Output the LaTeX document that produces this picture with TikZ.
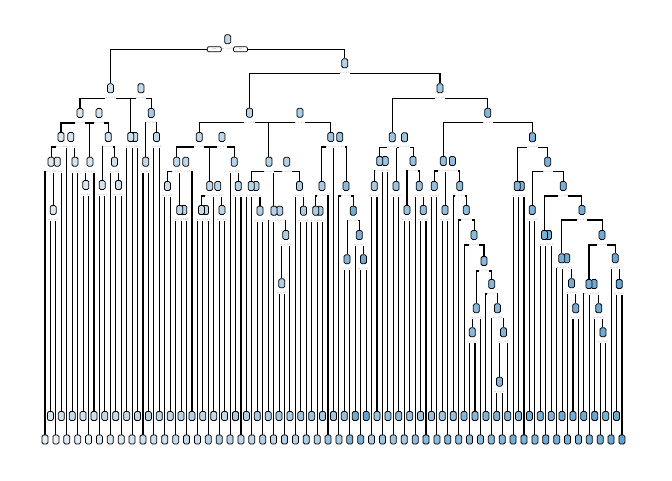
\documentclass[tikz,border=0pt]{standalone}
\usepackage{fontspec}
\usetikzlibrary{calc}
\pgfdeclarelayer{bg}
\pgfdeclarelayer{fg}
\pgfsetlayers{bg,main,fg}
\definecolor{nb}{RGB}{60,140,198}
\definecolor{nl}{RGB}{244,246,248}
\definecolor{lbl}{RGB}{130,100,140}
\tikzset{
  box/.style={draw=black, line width=0.75pt, rounded corners=1.5pt, minimum width=6pt, minimum height=9pt, inner sep=0pt},
  edge/.style={line width=1.1pt, black},
  splitlbl/.style={fill=white, inner sep=0.25pt, text=lbl, font=\fontsize{2.2}{2.4}\selectfont},
  yn/.style={draw=black, fill=white, line width=0.7pt, rounded corners=1.2pt, minimum width=14pt, minimum height=5pt, inner sep=0pt, text=lbl, font=\fontsize{2.4}{2.6}\selectfont}
}
\newcommand\mkbar[5]{%
  \path let \p1=(#2), \p2=(#3) in ({0.5*\x1+0.5*\x2},{-#4pt}) coordinate (#1);
  \path (#1) ++(0,10) coordinate (#1b);
  \node[box, fill=nb!#5!nl] (#1n) at (#1) {};
  \begin{pgfonlayer}{fg}
    \node[splitlbl] (#1s) at (#1b) {x < 0.5};
  \end{pgfonlayer}}
\newcommand\inode[5]{\mkbar{#1}{#2}{#3}{#4}{#5}%
  \begin{pgfonlayer}{bg}\draw[edge] (#2n.north) |- (#1b) -| (#3n.north);\end{pgfonlayer}}
\newcommand\inodet[5]{\mkbar{#1}{#2}{#3}{#4}{#5}%
  \begin{pgfonlayer}{bg}\draw[edge] (#2n.north) |- (#1b) -- (#3 |- #1b);\end{pgfonlayer}}
\def\lcol{{8,15,5,20,12,25,10,18,6,22,14,28,16,24,12,26,18,30,20,34,22,30,20,28,24,32,26,36,22,30,34,28,38,26,32,40,30,36,28,42,34,38,30,44,36,40,32,46,38,48,34,42,50,44,40,52,62,70,66,78,40,48,44,52,46,56,42,50,54,48,58,50,56,46,60,52,58,62,54,60,56,64,58,66,60,62,68,58,64,70,62,66,72,64,68,74,66,70,62,72,68,76,70,66,74,72,78}}
\begin{document}
\begin{tikzpicture}[x=1pt,y=-1pt]
\useasboundingbox (0,0) rectangle (672,480);
% leaves
\foreach \i in {0,...,106}{
  \pgfmathsetmacro\lx{45+5.443*\i}
  \pgfmathsetmacro\ly{mod(\i,2)==0 ? 439.5 : 416}
  \pgfmathtruncatemacro\lp{\lcol[\i]}
  \coordinate (l\i) at (\lx,\ly);
  \node[box, fill=nb!\lp!nl] (l\i n) at (l\i) {};
}
% ---- left subtree A
\inode{F6}{l1}{l2}{210}{12}
\inode{F4}{F6}{l3}{161.7}{14}
\inodet{F3}{l0}{F4}{161.7}{12}
\inode{F5}{l5}{l6}{161.7}{18}
\inode{F2}{l4}{F5}{137}{16}
\inodet{F1}{F3}{F2}{137}{14}
\inode{C4}{l7}{l8}{185}{14}
\inode{C3}{C4}{l9}{161.7}{16}
\inode{G3}{l10}{l11}{185}{20}
\inode{G4}{l13}{l14}{185}{20}
\inode{G2}{l12}{G4}{161.7}{20}
\inode{G1}{G3}{G2}{137}{20}
\inode{C2}{C3}{G1}{113}{18}
\inodet{C1}{F1}{C2}{113}{16}
\inode{E2}{l16}{l17}{137}{24}
\inodet{E1}{l15}{E2}{137}{22}
\inode{D3}{l18}{l19}{161.7}{28}
\inode{D2}{l20}{l21}{137}{28}
\inode{D1}{D3}{D2}{113}{42}
\inode{A2}{E1}{D1}{88.3}{26}
\inodet{A}{C1}{A2}{88.3}{20}
% ---- B1 subtree
\inode{K1}{l22}{l23}{186}{24}
\inode{L1p}{l25}{l26}{210}{30}
\inodet{L1}{l24}{L1p}{210}{28}
\inode{J1p}{L1}{l27}{161.7}{30}
\inodet{J1}{K1}{J1p}{161.7}{28}
\inode{N1p}{l29}{l30}{210}{28}
\inodet{N1}{l28}{N1p}{210}{26}
\inode{P1}{l32}{l33}{210}{32}
\inode{M1p}{l31}{P1}{186}{30}
\inodet{M1}{N1}{M1p}{186}{28}
\inode{Q2}{l35}{l36}{186}{34}
\inode{Q1}{l34}{Q2}{161.7}{32}
\inode{H1p}{M1}{Q1}{137}{30}
\inodet{H1}{J1}{H1p}{137}{28}
\inode{V1}{l39}{l40}{210.7}{36}
\inode{U1p}{l38}{V1}{186}{34}
\inodet{U1}{l37}{U1p}{186}{32}
\inode{X2}{l43}{l44}{283.3}{38}
\inode{X1}{X2}{l45}{235}{38}
\inode{W1p}{l42}{X1}{210.7}{36}
\inodet{W1}{l41}{W1p}{210.7}{34}
\inode{Y2}{l47}{l48}{210.7}{40}
\inode{Y1}{l46}{Y2}{186}{40}
\inode{S1p}{W1}{Y1}{161.7}{36}
\inodet{S1}{U1}{S1p}{161.7}{34}
\inode{Z2p}{l50}{l51}{210.7}{42}
\inodet{Z2}{l49}{Z2p}{210.7}{40}
\inode{Z1}{Z2}{l52}{186}{42}
\inode{BB1}{l55}{l56}{259.3}{62}
\inode{CC2}{l58}{l59}{259.3}{72}
\inode{CC1}{l57}{CC2}{235}{66}
\inode{AA2}{BB1}{CC1}{210.7}{70}
\inode{AA1}{l54}{AA2}{186}{58}
\inode{TX}{l53}{AA1}{137}{50}
\inodet{T1}{Z1}{TX}{137}{46}
\inode{B1p}{S1}{T1}{112.7}{38}
\inodet{B1}{H1}{B1p}{112.7}{32}
% ---- B2 subtree
\inode{GG}{l60}{l61}{186}{42}
\inode{FFp}{l62}{l63}{161}{46}
\inodet{FF}{GG}{FFp}{161}{44}
\inode{HH}{l64}{l65}{186}{48}
\inode{JJ}{l66}{l67}{210}{50}
\inode{LL}{l69}{l70}{210}{52}
\inode{KK}{l68}{LL}{186}{52}
\inode{II}{JJ}{KK}{161}{50}
\inode{EEp}{HH}{II}{137.3}{48}
\inodet{EE}{FF}{EEp}{137.3}{46}
\inode{PP}{l71}{l72}{186}{52}
\inode{QQ}{l73}{l74}{210}{54}
\inode{T5}{l78}{l79}{332.3}{58}
\inode{T3}{T5}{l80}{308.3}{58}
\inode{T8}{l83}{l84}{381.7}{62}
\inode{T7}{T8}{l85}{332.3}{62}
\inode{T6}{l82}{T7}{308.3}{60}
\inode{T4}{l81}{T6}{284}{60}
\inode{T2}{T3}{T4}{261}{58}
\inode{TT}{l77}{T2}{235}{58}
\inode{SS}{l76}{TT}{210}{56}
\inode{RR}{l75}{SS}{186}{56}
\inode{MMp}{QQ}{RR}{161}{54}
\inodet{MM}{PP}{MMp}{161}{52}
\inode{UUp}{l87}{l88}{186}{64}
\inodet{UU}{l86}{UUp}{186}{62}
\inode{WW}{l89}{l90}{210}{64}
\inode{YYp}{l92}{l93}{235}{68}
\inodet{YY}{l91}{YYp}{235}{66}
\inode{ZC}{l97}{l98}{308.3}{70}
\inode{ZB}{l96}{ZC}{283.3}{70}
\inode{ZAp}{l95}{ZB}{258.3}{70}
\inodet{ZA}{l94}{ZAp}{258.3}{68}
\inode{ZG}{l102}{l103}{332.3}{72}
\inode{ZF}{l101}{ZG}{308.3}{72}
\inode{ZEp}{l100}{ZF}{284}{72}
\inodet{ZE}{l99}{ZEp}{284}{70}
\inode{ZI}{l105}{l106}{284}{76}
\inode{ZH}{l104}{ZI}{258.3}{74}
\inode{ZD}{ZE}{ZH}{235}{72}
\inode{ZZ}{ZA}{ZD}{210}{70}
\inode{XX}{YY}{ZZ}{186}{68}
\inode{VV}{WW}{XX}{161.7}{66}
\inode{NN}{UU}{VV}{137.3}{64}
\inode{DD}{MM}{NN}{112.7}{60}
\inode{B2}{EE}{DD}{88.3}{44}
\inode{B}{B1}{B2}{63.3}{34}
\inode{R}{A}{B}{39.3}{28}
\begin{pgfonlayer}{fg}
  \node[yn] (yes) at (214.3,49.3) {yes};
  \node[yn] (no) at (240.5,49.3) {no};
\end{pgfonlayer}
\end{tikzpicture}
\end{document}
